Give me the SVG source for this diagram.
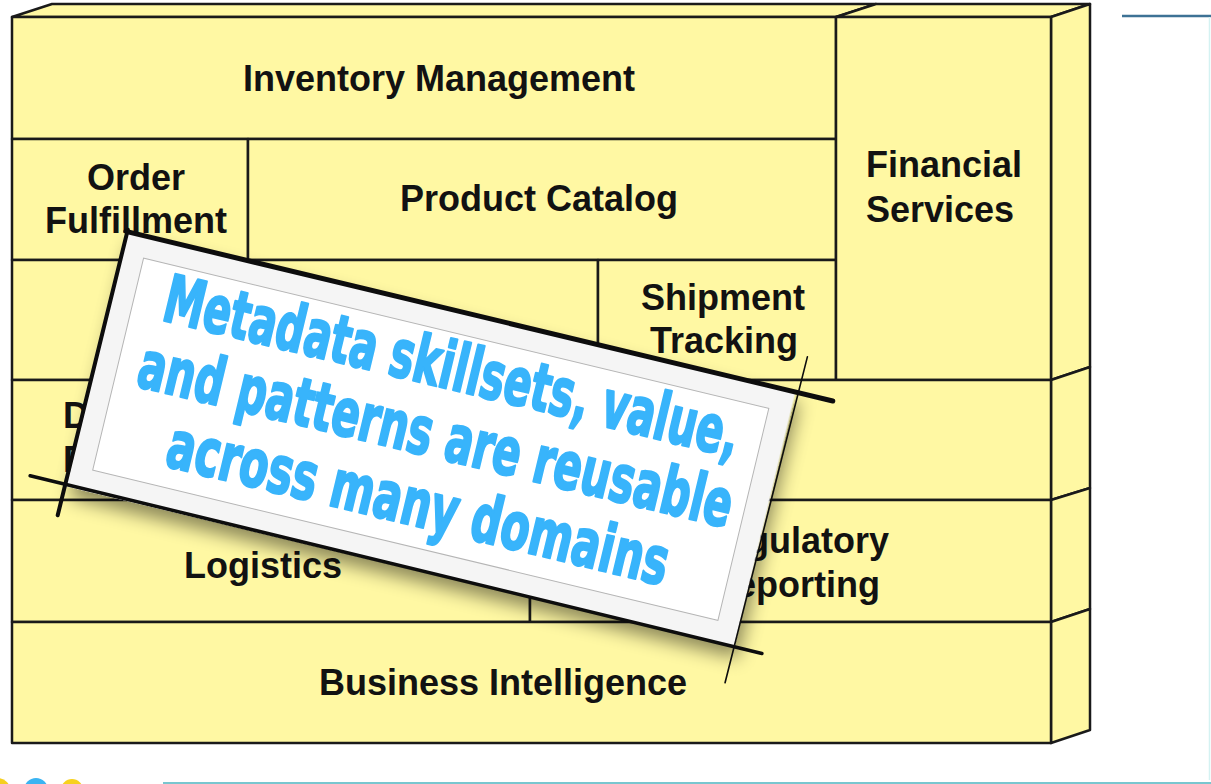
<svg xmlns="http://www.w3.org/2000/svg" width="1211" height="784" viewBox="0 0 1211 784">
<style>
.blk{fill:#fff8a3;stroke:#1a1a1a;stroke-width:2.5;stroke-linejoin:round}
.lbl{font-family:"Liberation Sans",Arial,sans-serif;font-weight:bold;font-size:36px;fill:#121212}
.mid{text-anchor:middle}
.note{font-family:"DejaVu Sans Condensed","Liberation Sans Narrow","DejaVu Sans",sans-serif;font-weight:bold;font-size:66px;fill:#38b4fb;stroke:#38b4fb;stroke-width:2.2;stroke-linejoin:round;text-anchor:middle}
.edge{stroke:#0d0d0d;fill:none;stroke-linecap:round}
</style>
<defs>
<filter id="sh" x="-20%" y="-30%" width="140%" height="160%">
<feDropShadow dx="6" dy="10" stdDeviation="9" flood-color="#000" flood-opacity="0.45"/>
</filter>
</defs>
<rect width="1211" height="784" fill="#ffffff"/>
<g id="frame">
<polygon class="blk" points="12,17 52,4 876,4 836,17"/>
<polygon class="blk" points="836,17 876,4 1090,4 1051,17"/>
<polygon class="blk" points="1051,17 1090,4 1090,367 1051,380"/>
<polygon class="blk" points="1051,380 1090,367 1090,488 1051,500"/>
<polygon class="blk" points="1051,500 1090,488 1090,609 1051,622"/>
<polygon class="blk" points="1051,622 1090,609 1090,730 1051,743"/>
</g>
<g id="inventory"><rect class="blk" x="12" y="17" width="824" height="122"/><text class="lbl mid" x="439" y="91">Inventory Management</text></g>
<g id="order"><rect class="blk" x="12" y="139" width="236" height="121"/><text class="lbl mid" x="136" y="190">Order</text><text class="lbl mid" x="136" y="233">Fulfillment</text></g>
<g id="catalog"><rect class="blk" x="248" y="139" width="588" height="121"/><text class="lbl mid" x="539" y="211">Product Catalog</text></g>
<g id="row3"><rect class="blk" x="12" y="260" width="586" height="120"/></g>
<g id="shipment"><rect class="blk" x="598" y="260" width="238" height="120"/><text class="lbl mid" x="723" y="310">Shipment</text><text class="lbl mid" x="724" y="353">Tracking</text></g>
<g id="financial"><rect class="blk" x="836" y="17" width="215" height="363"/><text class="lbl" x="866" y="177">Financial</text><text class="lbl" x="866" y="222">Services</text></g>
<g id="row4"><rect class="blk" x="12" y="380" width="1039" height="120"/><text class="lbl" x="63" y="428">D</text><text class="lbl" x="63" y="472">E</text></g>
<g id="logistics"><rect class="blk" x="12" y="500" width="518" height="122"/><text class="lbl mid" x="263" y="578">Logistics</text></g>
<g id="regulatory"><rect class="blk" x="530" y="500" width="521" height="122"/><text class="lbl mid" x="795" y="553">Regulatory</text><text class="lbl mid" x="795" y="597">Reporting</text></g>
<g id="bi"><rect class="blk" x="12" y="622" width="1039" height="121"/><text class="lbl mid" x="503" y="695">Business Intelligence</text></g>
<g id="note" transform="translate(430.75 439.25) rotate(13.5)">
<rect x="-343.5" y="-131" width="687" height="262" fill="#f5f5f5" filter="url(#sh)"/>
<rect x="-321.5" y="-109" width="643" height="218" fill="#ffffff" stroke="#b5b5b5" stroke-width="1"/>
<line class="edge" x1="-345" y1="-131" x2="382" y2="-131" stroke-width="5"/>
<line class="edge" x1="-343.5" y1="-133" x2="-345" y2="161" stroke-width="4"/>
<line class="edge" x1="-381" y1="129" x2="372" y2="131" stroke-width="3.5"/>
<line class="edge" x1="347" y1="-168" x2="343" y2="168" stroke-width="1.6"/>
<text class="note" x="4" y="-53" textLength="590" lengthAdjust="spacingAndGlyphs">Metadata skillsets, value,</text>
<text class="note" x="4" y="17" textLength="609" lengthAdjust="spacingAndGlyphs">and patterns are reusable</text>
<text class="note" x="3" y="88" textLength="514" lengthAdjust="spacingAndGlyphs">across many domains</text>
</g>
<g id="decor">
<line x1="1122" y1="16" x2="1211" y2="16" stroke="#3d7295" stroke-width="2.5"/>
<line x1="1209.5" y1="17" x2="1209.5" y2="780" stroke="#d4f2f2" stroke-width="1.5"/>
<line x1="163" y1="783" x2="1211" y2="783" stroke="#79c6cf" stroke-width="2"/>
<circle cx="-3" cy="792" r="14" fill="#f5cf1f"/>
<circle cx="36" cy="790" r="12" fill="#3ab4f2"/>
<circle cx="72" cy="790" r="11" fill="#f7d11e"/>
</g>
</svg>
